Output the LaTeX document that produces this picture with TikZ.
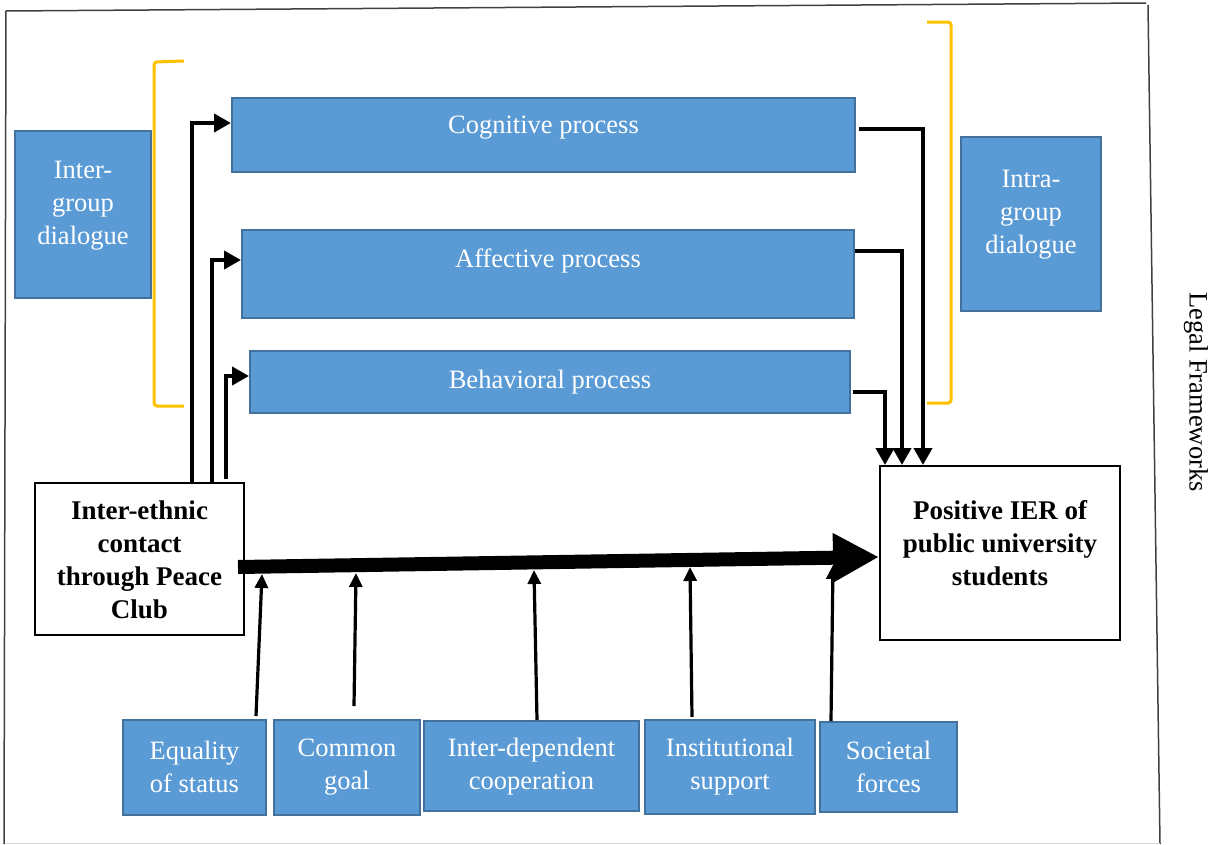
\documentclass[tikz,border=0pt]{standalone}
\usepackage{fontspec}
\setmainfont{Liberation Serif}
\usetikzlibrary{arrows.meta}
\definecolor{boxblue}{HTML}{5B9BD5}
\definecolor{boxedge}{HTML}{41719C}
\definecolor{gold}{HTML}{FFC000}
\begin{document}
\begin{tikzpicture}[x=1pt,y=-1pt,
  bluebox/.style={draw=boxedge, fill=boxblue, line width=2pt, inner sep=0pt},
  btext/.style={text=white, font=\fontsize{26.5}{33}\selectfont, align=center, inner sep=0pt},
  whitebox/.style={draw=black, fill=white, line width=2pt, inner sep=0pt},
  wtext/.style={font=\bfseries\fontsize{27}{33}\selectfont, align=center, inner sep=0pt},
  conn/.style={line width=4pt, -{Triangle[length=17pt,width=18pt]}},
  upconn/.style={line width=3.2pt, -{Triangle[length=14pt,width=13pt]}},
  bracket/.style={draw=gold, line width=3pt, rounded corners=3pt},
  frame/.style={line width=1.5pt, black!75},
]
\useasboundingbox (0,0) rectangle (1211,844);

% outer frame
\draw[frame] (4,844) -- (6,11) -- (1146,3);
\draw[frame] (1148,5) -- (1160,844);
\draw[black!15, line width=1pt] (6,843) -- (1160,843);

% brackets
\draw[bracket] (184,61) -- (154,62) -- (154,406) -- (184,406);
\draw[bracket] (927,22) -- (951,22) -- (951,403) -- (927,403);

% boxes
\node[bluebox, minimum width=136pt, minimum height=167pt] (inter) at (83,214.5) {};
\node[btext] (intert) at (83,206) {Inter-\\group\\dialogue};
\node[bluebox, minimum width=623pt, minimum height=74pt] (cog) at (543.5,135) {};
\node[btext] (cogt) at (543.5,128) {Cognitive process};
\node[bluebox, minimum width=612pt, minimum height=88pt] (aff) at (548,274) {};
\node[btext] (afft) at (548,261) {Affective process};
\node[bluebox, minimum width=600pt, minimum height=62pt] (beh) at (550,382) {};
\node[btext] (beht) at (550,382) {Behavioral process};
\node[bluebox, minimum width=140pt, minimum height=174pt] (intra) at (1031,224) {};
\node[btext] (intrat) at (1031,215) {Intra-\\group\\dialogue};

\node[whitebox, minimum width=209pt, minimum height=152pt] (contact) at (139.5,559) {};
\node[wtext] (contactt) at (139.5,560) {Inter-ethnic\\contact\\through Peace\\Club};
\node[whitebox, minimum width=240pt, minimum height=174pt] (ier) at (1000,553) {};
\node[wtext] (iert) at (1000,543) {Positive IER of\\public university\\students};

\node[bluebox, minimum width=143pt, minimum height=95pt] (eq) at (194.5,767.5) {};
\node[btext] (eqt) at (194.5,767) {Equality\\of status};
\node[bluebox, minimum width=146pt, minimum height=95pt] (cg) at (347,767.5) {};
\node[btext] (cgt) at (347,767.5) {Common\\goal};
\node[bluebox, minimum width=215pt, minimum height=90pt] (idc) at (531.5,766) {};
\node[btext] (idct) at (531.5,767) {Inter-dependent\\cooperation};
\node[bluebox, minimum width=170pt, minimum height=94pt] (inst) at (730,767) {};
\node[btext] (instt) at (730,767) {Institutional\\support};
\node[bluebox, minimum width=137pt, minimum height=90pt] (soc) at (888.5,767) {};
\node[btext] (soct) at (888.5,767) {Societal\\forces};

\node[rotate=-90, font=\fontsize{26.5}{30}\selectfont, inner sep=0pt] (legal) at (1196,392) {Legal Frameworks};

% left connectors
\draw[conn] ([xshift=52.5pt]contact.north) |- ([yshift=12pt]cog.west);
\draw[conn] ([xshift=72.5pt]contact.north) |- ([yshift=14pt]aff.west);
\draw[conn] ([xshift=86.5pt,yshift=3pt]contact.north) |- ([yshift=6pt]beh.west);

% right connectors
\draw[conn] ([yshift=6pt,xshift=3pt]cog.east) -| ([xshift=-77pt]ier.north);
\draw[conn] ([yshift=23pt]aff.east) -| ([xshift=-98pt]ier.north);
\draw[conn] ([yshift=-10pt,xshift=2pt]beh.east) -| ([xshift=-115pt]ier.north);

% shaft points
\coordinate (s1) at (262,574);
\coordinate (s2) at (356,573);
\coordinate (s3) at (534,570);
\coordinate (s4) at (690,567);
\coordinate (s5) at (833,565);

% bottom arrows
\draw[upconn] ([xshift=61.5pt,yshift=3pt]eq.north) -- (s1);
\draw[upconn] ([xshift=7pt,yshift=13pt]cg.north) -- (s2);
\draw[upconn] ([xshift=5.5pt]idc.north) -- (s3);
\draw[upconn] ([xshift=-38pt,yshift=2pt]inst.north) -- (s4);
\draw[upconn] ([xshift=-57.5pt]soc.north) -- (s5);

% main thick arrow
\draw[line width=14pt, -{Triangle[length=46pt,width=46pt]}] ([xshift=-7pt,yshift=-8pt]contact.east) -- ([yshift=-4pt]ier.west);
\end{tikzpicture}
\end{document}
